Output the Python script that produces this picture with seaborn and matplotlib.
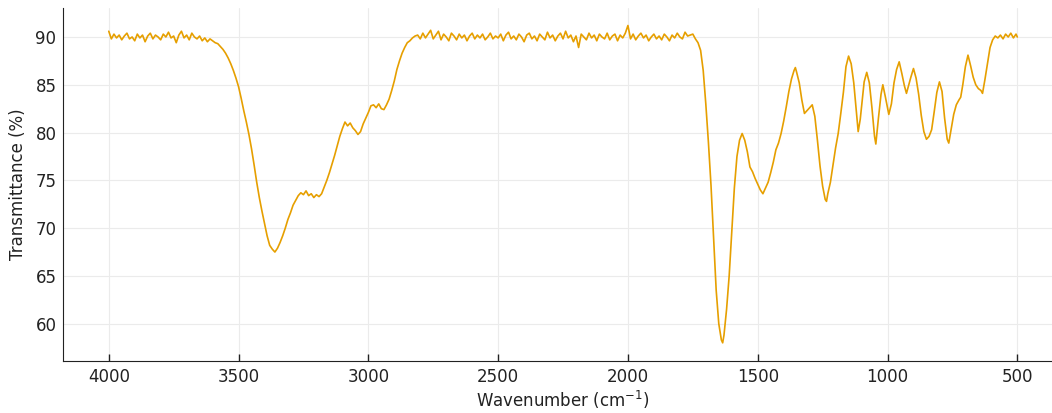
import matplotlib
matplotlib.use("Agg")
import matplotlib.pyplot as plt
import seaborn as sns
import pandas as pd

# ---- data (wavenumber cm^-1, transmittance %) ----
plateau_high_wn = [(4000, 90.6), (3990, 89.8), (3980, 90.3), (3970, 89.9), (3960, 90.2), (3950, 89.7),
                   (3940, 90.1), (3930, 90.4), (3920, 89.8), (3910, 90.0), (3900, 89.6), (3890, 90.3),
                   (3880, 89.9), (3870, 90.2), (3860, 89.5), (3850, 90.1), (3840, 90.4), (3830, 89.8),
                   (3820, 90.2), (3810, 90.0), (3800, 89.7), (3790, 90.3), (3780, 90.0), (3770, 90.5),
                   (3760, 89.9), (3750, 90.1), (3740, 89.4), (3730, 90.2), (3720, 90.6), (3710, 89.9),
                   (3700, 90.2), (3690, 89.7), (3680, 90.4), (3670, 90.0), (3660, 89.8), (3650, 90.1),
                   (3640, 89.6), (3630, 89.9), (3620, 89.5), (3610, 89.8)]

band_oh_ch = [(3600, 89.6), (3590, 89.4), (3580, 89.3), (3570, 89.0), (3560, 88.7), (3550, 88.3),
              (3540, 87.8), (3530, 87.2), (3520, 86.5), (3510, 85.7), (3500, 84.8), (3490, 83.6),
              (3480, 82.3), (3470, 81.1), (3460, 79.8), (3450, 78.3), (3440, 76.6), (3430, 74.8),
              (3420, 73.2), (3410, 71.8), (3400, 70.5), (3390, 69.2), (3380, 68.2), (3370, 67.8),
              (3360, 67.5), (3350, 67.9), (3340, 68.5), (3330, 69.2), (3320, 70.0), (3310, 70.9),
              (3300, 71.6), (3290, 72.4), (3280, 72.9), (3270, 73.4), (3260, 73.7), (3250, 73.5),
              (3240, 73.9), (3230, 73.4), (3220, 73.6), (3210, 73.2), (3200, 73.5), (3190, 73.3),
              (3180, 73.6), (3170, 74.3), (3160, 75.0), (3150, 75.8), (3140, 76.7), (3130, 77.6),
              (3120, 78.6), (3110, 79.6), (3100, 80.4), (3090, 81.1), (3080, 80.7), (3070, 81.0),
              (3060, 80.5), (3050, 80.2), (3040, 79.8), (3030, 80.1), (3020, 80.9), (3010, 81.5),
              (3000, 82.1), (2990, 82.8), (2980, 82.9), (2970, 82.6), (2960, 83.0), (2950, 82.5),
              (2940, 82.4), (2930, 82.9), (2920, 83.5), (2910, 84.4), (2900, 85.4), (2890, 86.6),
              (2880, 87.5), (2870, 88.3), (2860, 88.9), (2850, 89.4), (2840, 89.6), (2830, 89.9),
              (2820, 90.1)]

plateau_mid = [(2810, 90.2), (2800, 89.8), (2790, 90.4), (2780, 89.9), (2770, 90.3), (2760, 90.7),
               (2750, 89.8), (2740, 90.2), (2730, 90.6), (2720, 89.7), (2710, 90.3), (2700, 90.0),
               (2690, 89.6), (2680, 90.4), (2670, 90.1), (2660, 89.7), (2650, 90.3), (2640, 89.9),
               (2630, 90.2), (2620, 89.6), (2610, 90.1), (2600, 90.4), (2590, 89.8), (2580, 90.2),
               (2570, 89.9), (2560, 90.3), (2550, 89.7), (2540, 90.0), (2530, 90.4), (2520, 89.8),
               (2510, 90.1), (2500, 89.9), (2490, 90.3), (2480, 89.6), (2470, 90.2), (2460, 90.5),
               (2450, 89.8), (2440, 90.1), (2430, 89.7), (2420, 90.3), (2410, 90.0), (2400, 89.5),
               (2390, 90.2), (2380, 90.4), (2370, 89.8), (2360, 90.1), (2350, 89.6), (2340, 90.3),
               (2330, 90.0), (2320, 89.7), (2310, 90.5), (2300, 89.9), (2290, 90.2), (2280, 89.6),
               (2270, 90.1), (2260, 90.4), (2250, 89.8), (2240, 90.6), (2230, 89.9), (2220, 90.2),
               (2210, 89.5), (2200, 90.1), (2190, 88.9), (2180, 90.3), (2170, 90.0), (2160, 89.7),
               (2150, 90.4), (2140, 89.9), (2130, 90.2), (2120, 89.6), (2110, 90.3), (2100, 90.0),
               (2090, 89.8), (2080, 90.4), (2070, 89.7), (2060, 90.1), (2050, 90.3), (2040, 89.6),
               (2030, 90.2), (2020, 89.9), (2010, 90.4), (2000, 91.2), (1990, 89.8), (1980, 90.3),
               (1970, 89.7), (1960, 90.1), (1950, 90.4), (1940, 89.9), (1930, 90.2), (1920, 89.6),
               (1910, 90.0), (1900, 90.3), (1890, 89.8), (1880, 90.1), (1870, 89.7), (1860, 90.3),
               (1850, 90.0), (1840, 89.6), (1830, 90.2), (1820, 89.9), (1810, 90.4), (1800, 90.0),
               (1790, 89.8), (1780, 90.5), (1770, 90.1), (1760, 90.2), (1750, 90.3), (1740, 89.8),
               (1730, 89.4), (1720, 88.6)]

fingerprint = [(1710, 86.5), (1700, 83.0), (1690, 79.0), (1680, 74.5), (1670, 69.0), (1660, 63.5),
               (1650, 60.0), (1640, 58.3), (1635, 58.0), (1630, 58.8), (1620, 61.5), (1610, 65.0),
               (1600, 69.5), (1590, 74.2), (1580, 77.5), (1570, 79.2), (1560, 79.9), (1550, 79.2),
               (1540, 78.0), (1530, 76.4), (1520, 75.9), (1510, 75.2), (1500, 74.6), (1490, 74.0),
               (1480, 73.6), (1470, 74.2), (1460, 74.8), (1450, 75.8), (1440, 76.9), (1430, 78.2),
               (1420, 78.9), (1410, 79.9), (1400, 81.2), (1390, 82.7), (1380, 84.3), (1370, 85.6),
               (1360, 86.5), (1355, 86.8), (1350, 86.3), (1340, 85.2), (1330, 83.4), (1320, 82.0),
               (1310, 82.3), (1300, 82.6), (1290, 82.9), (1280, 81.7), (1270, 79.2), (1260, 76.5),
               (1250, 74.4), (1240, 73.0), (1235, 72.8), (1230, 73.6), (1220, 74.8), (1210, 76.6),
               (1200, 78.4), (1190, 79.9), (1180, 82.0), (1170, 84.2), (1160, 86.9), (1150, 88.0),
               (1140, 87.2), (1130, 85.2), (1120, 82.2), (1113, 80.1), (1105, 81.4), (1100, 82.7),
               (1090, 85.3), (1080, 86.3), (1070, 85.2), (1060, 82.6), (1050, 79.6), (1045, 78.8),
               (1035, 81.5), (1025, 84.0), (1018, 85.0), (1008, 83.7), (995, 81.9), (985, 83.0),
               (975, 85.2), (965, 86.6), (955, 87.4), (945, 86.2), (935, 84.9), (927, 84.1),
               (920, 84.8), (910, 85.8), (900, 86.7), (890, 85.7), (880, 84.0), (870, 81.8),
               (860, 80.1), (850, 79.3), (840, 79.6), (830, 80.3), (820, 82.2), (810, 84.2),
               (800, 85.3), (790, 84.3), (780, 81.5), (770, 79.3), (764, 78.9), (755, 80.3),
               (745, 81.9), (735, 82.9), (725, 83.4), (718, 83.7), (710, 85.0), (700, 86.9),
               (690, 88.1), (680, 87.0), (670, 85.8), (660, 85.0), (650, 84.6), (640, 84.4),
               (634, 84.1), (625, 85.5), (615, 87.2), (605, 88.9), (595, 89.7)]

plateau_low = [(585, 90.1), (575, 89.9), (565, 90.2), (555, 89.8), (545, 90.3), (535, 90.0),
               (525, 90.4), (515, 89.9), (505, 90.3), (500, 90.0)]

x_ticks = [4000, 3500, 3000, 2500, 2000, 1500, 1000, 500]
y_ticks = [60, 65, 70, 75, 80, 85, 90]

points = plateau_high_wn + band_oh_ch + plateau_mid + fingerprint + plateau_low
df = pd.DataFrame(points, columns=["wavenumber", "transmittance"])

# ---- style ----
sns.set_style("whitegrid", {
    "grid.color": "#ebebeb",
    "axes.edgecolor": "#222222",
    "axes.linewidth": 1.2,
})
plt.rcParams["font.family"] = ["DejaVu Sans"]
plt.rcParams["text.color"] = "#222222"
plt.rcParams["axes.labelcolor"] = "#222222"
plt.rcParams["xtick.color"] = "#222222"
plt.rcParams["ytick.color"] = "#222222"

fig = plt.figure(figsize=(10.52, 4.13), dpi=100)
ax = fig.add_axes([0.0602, 0.1259, 0.950, 0.854])

sns.lineplot(data=df, x="wavenumber", y="transmittance", ax=ax,
             color="#E69F00", linewidth=1.2, estimator=None, sort=True)

ax.set_xlim(4175, 325)
ax.set_ylim(56.1, 93.0)
ax.set_xticks(x_ticks)
ax.set_yticks(y_ticks)
ax.tick_params(axis="both", labelsize=12)
ax.tick_params(axis="x", length=5, width=1, direction="in", bottom=True, pad=5)
ax.tick_params(axis="y", length=0, pad=5)
ax.set_xlabel("Wavenumber (cm$^{-1}$)", fontsize=12, labelpad=2)
ax.set_ylabel("Transmittance (%)", fontsize=12, labelpad=6)
for s in ("top", "right"):
    ax.spines[s].set_visible(False)
ax.grid(True, linewidth=0.8)

fig.savefig("out.png", dpi=100)
